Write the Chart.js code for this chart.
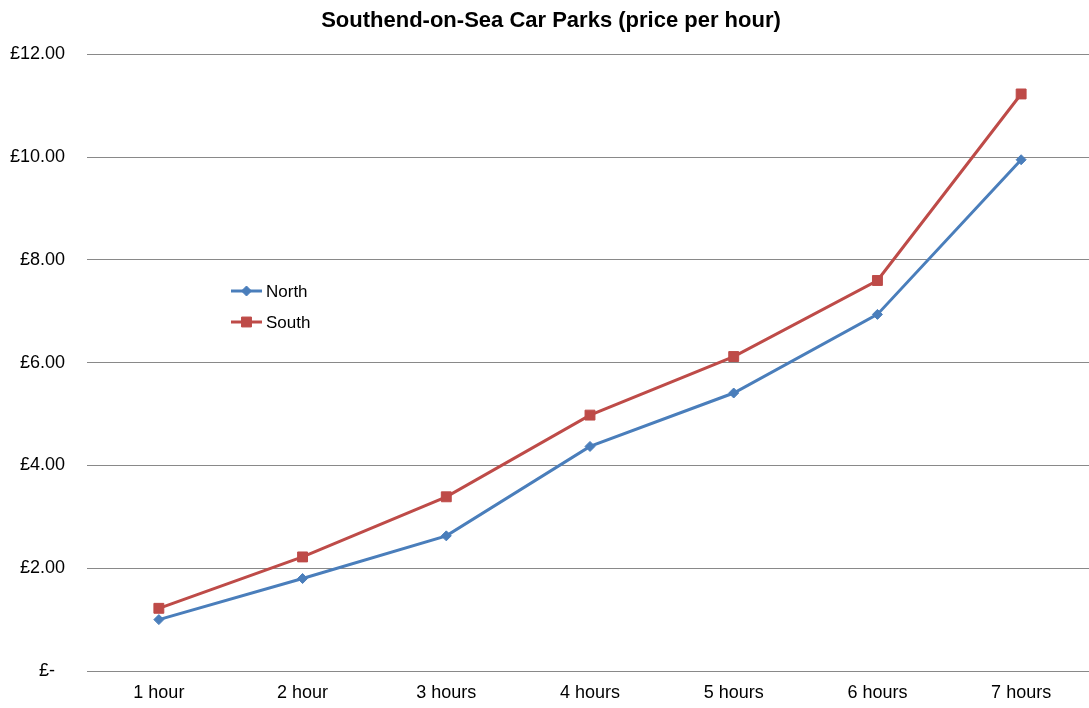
<!DOCTYPE html>
<html>
<head>
<meta charset="utf-8">
<script src="https://cdn.jsdelivr.net/npm/chart.js@4/dist/chart.umd.min.js"></script>
<style>
html,body{margin:0;padding:0;background:#fff;overflow:hidden;width:1089px;height:708px;}
#wrap{width:1093px;height:708px;position:relative;}
canvas{display:block;width:1093px;height:708px;}
</style>
</head>
<body>
<div id="wrap"><canvas id="c" width="1093" height="708"></canvas></div>
<script>
const categories = ["1 hour", "2 hour", "3 hours", "4 hours", "5 hours", "6 hours", "7 hours"];
const northValues = [1.00, 1.80, 2.63, 4.37, 5.41, 6.94, 9.95];
const southValues = [1.22, 2.22, 3.39, 4.98, 6.12, 7.60, 11.23];
const seriesNames = ["North", "South"];
const chartTitle = "Southend-on-Sea Car Parks (price per hour)";

const FONT = "'Liberation Sans', Arial, sans-serif";

const legendPlugin = {
  id: 'insideLegend',
  afterDraw(chart) {
    const ctx = chart.ctx;
    const x0 = 231, x1 = 262, tx = 266;
    const ys = [291, 322];
    chart.data.datasets.forEach((ds, i) => {
      const y = ys[i];
      ctx.save();
      ctx.strokeStyle = ds.borderColor;
      ctx.lineWidth = ds.borderWidth;
      ctx.beginPath();
      ctx.moveTo(x0, y); ctx.lineTo(x1, y); ctx.stroke();
      ctx.fillStyle = ds.pointBackgroundColor;
      ctx.strokeStyle = ds.pointBorderColor;
      ctx.lineWidth = 1;
      Chart.helpers.drawPoint(ctx, {pointStyle: ds.pointStyle, radius: ds.pointRadius, borderWidth: 1}, (x0 + x1) / 2, y);
      ctx.fillStyle = '#000';
      ctx.font = "17px " + FONT;
      ctx.textBaseline = 'middle';
      ctx.textAlign = 'left';
      ctx.fillText(ds.label, tx, y + 1);
      ctx.restore();
    });
  }
};

new Chart(document.getElementById('c'), {
  type: 'line',
  data: {
    labels: categories,
    datasets: [
      {
        label: seriesNames[0], data: northValues,
        borderColor: '#4A7EBB', backgroundColor: '#4A7EBB',
        pointBackgroundColor: '#4A7EBB', pointBorderColor: '#4A7EBB',
        borderWidth: 3, pointStyle: 'rectRot', pointRadius: 5, pointBorderWidth: 1,
        tension: 0, fill: false
      },
      {
        label: seriesNames[1], data: southValues,
        borderColor: '#BE4B48', backgroundColor: '#BE4B48',
        pointBackgroundColor: '#BE4B48', pointBorderColor: '#BE4B48',
        borderWidth: 3, pointStyle: 'rect', pointRadius: 7, pointBorderWidth: 1,
        tension: 0, fill: false
      }
    ]
  },
  options: {
    responsive: false,
    animation: false,
    layout: { autoPadding: false, padding: { left: 9, right: 0, top: 0, bottom: 0 } },
    plugins: {
      legend: { display: false },
      tooltip: { enabled: false },
      title: {
        display: true, text: chartTitle, color: '#000',
        font: { family: FONT, size: 22, weight: 'bold' },
        padding: { top: 8, bottom: 20 }
      }
    },
    scales: {
      x: {
        offset: true,
        grid: { display: false, drawTicks: false },
        border: { display: false },
        ticks: { color: '#000', font: { family: FONT, size: 18 }, padding: 11, maxRotation: 0 },
        afterFit(s) { s.height = 37; }
      },
      y: {
        min: 0, max: 12,
        ticks: {
          stepSize: 2, color: '#000', font: { family: FONT, size: 18 }, padding: 22,
          callback: v => v === 0 ? '£-  ' : '£' + v.toFixed(2)
        },
        grid: { color: '#898989', lineWidth: 1, drawTicks: false },
        border: { display: false },
        afterFit(s) { s.width = 78; }
      }
    }
  },
  plugins: [legendPlugin]
});
</script>
</body>
</html>
